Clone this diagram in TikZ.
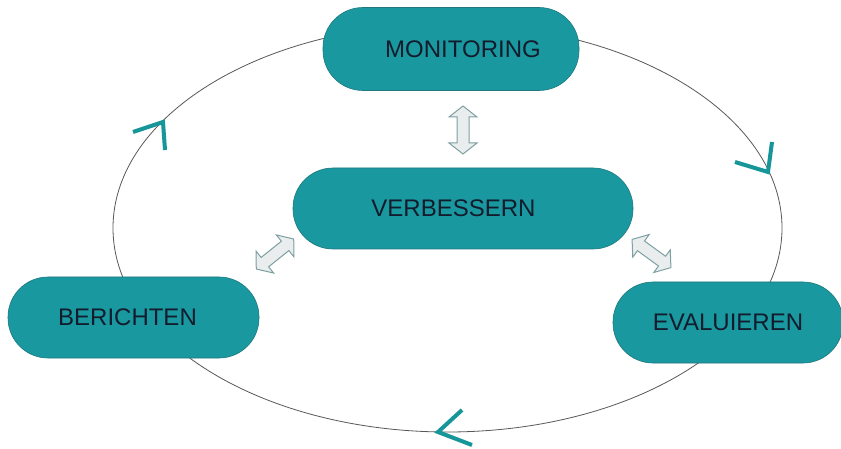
\documentclass[tikz,border=0pt]{standalone}
\usepackage{fontspec}
\setmainfont{Liberation Sans}
\begin{document}
\begin{tikzpicture}[x=1pt,y=-1pt]
\definecolor{boxteal}{RGB}{26,152,160}
\definecolor{boxedge}{RGB}{30,120,126}
\definecolor{chevteal}{RGB}{22,150,152}
\definecolor{txtnavy}{RGB}{18,28,44}
\definecolor{arrfill}{RGB}{234,237,237}
\definecolor{arredge}{RGB}{125,160,162}
\tikzset{
  stage/.style={rectangle, rounded corners=40pt, fill=boxteal, draw=boxedge, line width=0.6pt,
    text=txtnavy, font=\fontsize{24}{28}\selectfont, inner sep=0pt},
  chev/.style={draw=chevteal, line width=4pt, line cap=butt, line join=miter},
  dbl/.style={fill=arrfill, draw=arredge, line width=1pt, line join=miter},
  pics/dblarr/.style={code={
    \draw[dbl] (-24,0) -- (-13,-14) -- (-13,-6) -- (13,-6) -- (13,-14) -- (24,0)
       -- (13,14) -- (13,6) -- (-13,6) -- (-13,14) -- cycle;}}
}
\useasboundingbox (0,0) rectangle (841,449);
\fill[white] (0,0) rectangle (841,449);
% cycle ellipse
\draw[gray!70!black, line width=0.8pt] (447.5,228) ellipse [x radius=334.5, y radius=204];
% stages
\node[stage, minimum width=256pt, minimum height=83pt] (mon) at (451,49) {\kern24pt MONITORING};
\node[stage, minimum width=340pt, minimum height=81pt] (ver) at (463,208.5) {VERBESSERN\kern19pt};
\node[stage, minimum width=251pt, minimum height=81pt] (ber) at (133.5,317.5) {BERICHTEN\kern12pt};
\node[stage, minimum width=230pt, minimum height=81pt] (eva) at (728,322.5) {EVALUIEREN};
% double arrows
\pic[rotate=90] at (463,130) {dblarr};
\pic[rotate=38.7] at (275,254) {dblarr};
\pic[rotate=-36] at (651.5,253.5) {dblarr};
% direction chevrons
\draw[chev] (133,132) -- (163,122) -- (165,150);
\draw[chev] (735,162) -- (768,172) -- (772,142);
\draw[chev] (462,410) -- (438,432) -- (472,445);
\end{tikzpicture}
\end{document}
